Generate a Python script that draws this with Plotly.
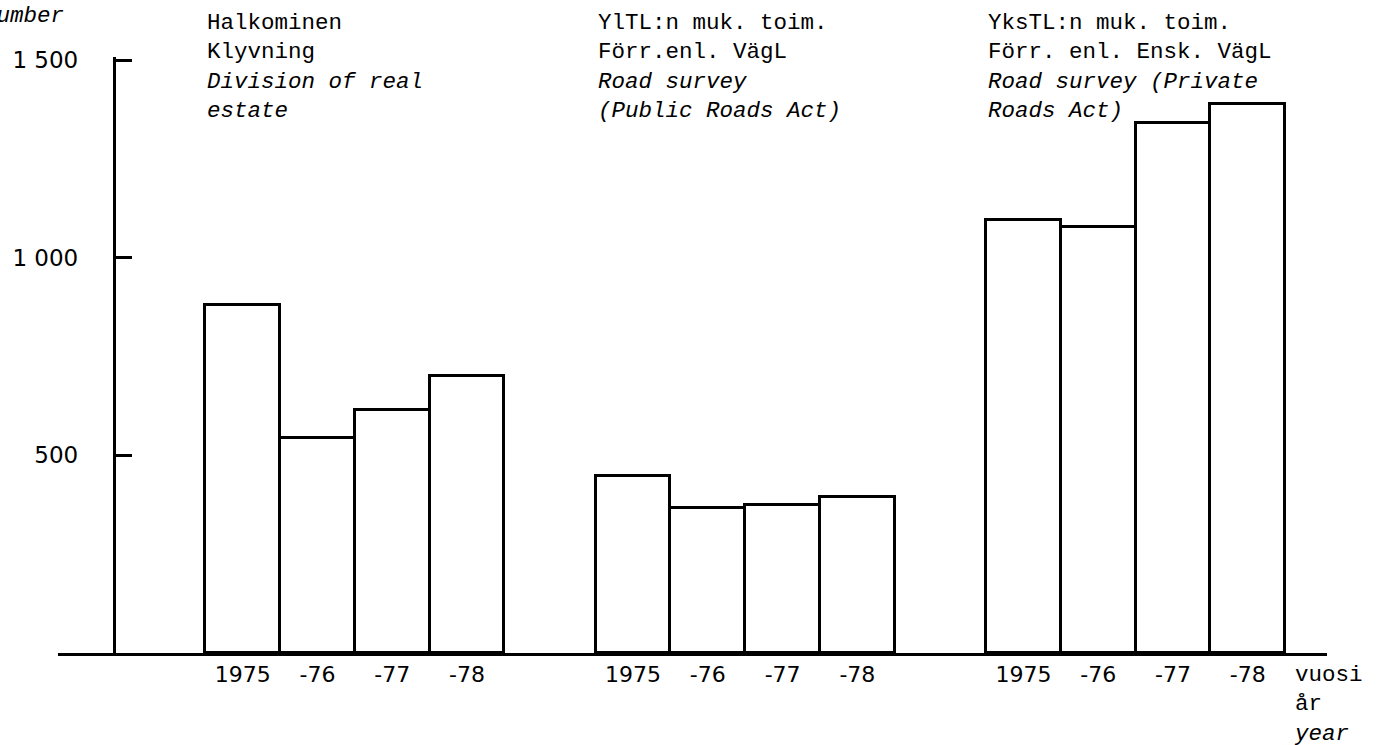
import plotly.graph_objects as go

# values (number of cases per year)
YEAR_LABELS = ["1975", "-76", "-77", "-78"]
DIVISION = [880, 545, 615, 700]
PUBLIC_ROADS = [447, 367, 375, 395]
PRIVATE_ROADS = [1095, 1078, 1340, 1390]

GROUP_TITLES = [
    "Halkominen<br>Klyvning<br><i>Division of real<br>estate</i>",
    "YlTL:n muk. toim.<br>Förr.enl. VägL<br><i>Road survey<br>(Public Roads Act)</i>",
    "YksTL:n muk. toim.<br>Förr. enl. Ensk. VägL<br><i>Road survey (Private<br>Roads Act)</i>",
]
Y_TICKS = [500, 1000, 1500]
Y_TICK_TEXT = ["500", "1 000", "1 500"]

INK = "#000000"
MONO = "Liberation Mono, Courier New, monospace"
SANS = "DejaVu Sans, sans-serif"

# layout of the slots (bar width = 1 unit)
FIRST_CENTER = 2.47
GROUP_STEP = 5.22
X_MAX = 16.97

fig = go.Figure()
tick_vals, tick_text = [], []
for g, values in enumerate([DIVISION, PUBLIC_ROADS, PRIVATE_ROADS]):
    xs = [FIRST_CENTER + g * GROUP_STEP + i for i in range(len(values))]
    fig.add_trace(
        go.Bar(
            x=xs,
            y=values,
            width=1,
            marker={"color": "white", "line": {"color": INK, "width": 3}},
            showlegend=False,
            hovertemplate="%{y}<extra></extra>",
        )
    )
    tick_vals += xs
    tick_text += YEAR_LABELS
    fig.add_annotation(
        x=xs[0] - 0.5, y=1.082, xref="x", yref="paper",
        xanchor="left", yanchor="top", align="left",
        text=GROUP_TITLES[g], showarrow=False,
        font={"family": MONO, "size": 22.5, "color": INK},
    )

fig.add_annotation(
    x=0.9725, y=-0.0117, xref="paper", yref="paper",
    xanchor="left", yanchor="top", align="left",
    text="vuosi<br>år<br><i>year</i>", showarrow=False,
    font={"family": MONO, "size": 22.5, "color": INK},
)
fig.add_annotation(
    x=0.0063, y=1.069, xref="paper", yref="paper",
    xanchor="right", yanchor="middle",
    text="<i>number</i>", showarrow=False,
    font={"family": MONO, "size": 22.5, "color": INK},
)

fig.update_layout(
    width=1379,
    height=745,
    paper_bgcolor="white",
    plot_bgcolor="white",
    margin={"l": 54, "r": 52, "t": 57, "b": 92},
    bargap=0,
    font={"family": SANS, "color": INK, "size": 22},
)
fig.update_xaxes(
    range=[0, X_MAX],
    showgrid=False, zeroline=False,
    showline=True, linecolor=INK, linewidth=3,
    tickvals=tick_vals, ticktext=tick_text, ticks="",
    tickfont={"family": SANS, "size": 22, "color": INK},
)
fig.update_yaxes(
    range=[0, 1508],
    anchor="free", position=0.044,
    showgrid=False, zeroline=False,
    showline=True, linecolor=INK, linewidth=3,
    tickvals=Y_TICKS, ticktext=Y_TICK_TEXT,
    ticks="inside", ticklen=16, tickwidth=3, tickcolor=INK,
    ticklabelstandoff=30,
    tickfont={"family": SANS, "size": 23, "color": INK},
)

# the page's default body margin would push the figure 8px in
fig.write_html(
    "out.html",
    config={"displayModeBar": False},
    post_script="document.body.style.margin='0';",
)
